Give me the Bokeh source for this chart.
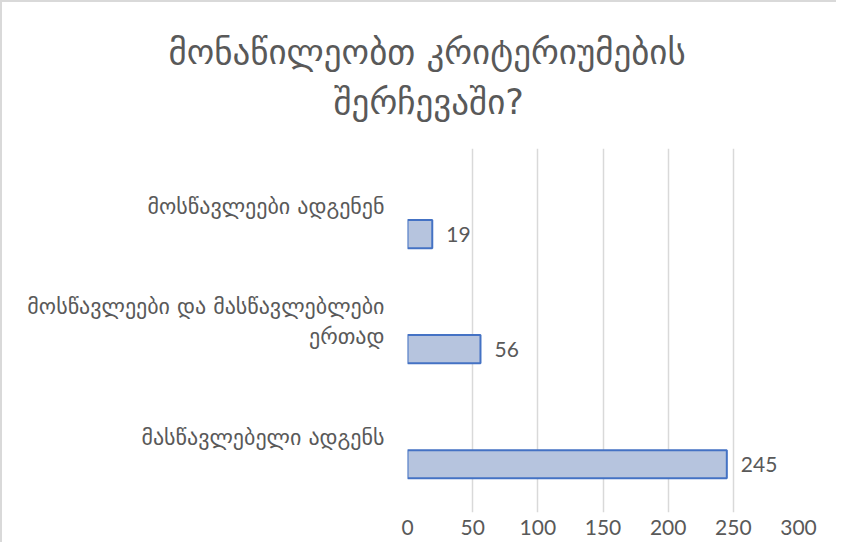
from bokeh.plotting import figure
from bokeh.models import Range1d, FixedTicker, ColumnDataSource, Title
from bokeh.core.properties import value
from bokeh.embed import file_html
from bokeh.resources import INLINE

title_lines = ["მონაწილეობთ კრიტერიუმების", "შერჩევაში?"]
categories = ["მასწავლებელი ადგენს", "მოსწავლეები და მასწავლებლები\nერთად", "მოსწავლეები ადგენენ"]
values = [245, 56, 19]
x_ticks = [0, 50, 100, 150, 200, 250, 300]

GEO = "DejaVu Sans"
NUM = "Lato"
TXT = "#595959"

p = figure(width=836, height=542, output_backend="svg", toolbar_location=None,
           x_range=Range1d(0, 300), y_range=Range1d(-0.655, 2.507),
           min_border_left=405, min_border_right=40, min_border_top=146, min_border_bottom=32)
p.outline_line_color = None
p.styles = {"border-top": "2px solid #d9d9d9", "border-left": "2px solid #d9d9d9"}

pos = list(range(len(categories)))
bar_y = [i - 0.236 for i in pos]
src = ColumnDataSource(dict(y=bar_y, v=values, lbl=[str(v) for v in values]))
p.hbar(y="y", right="v", left=0, height=0.245, source=src,
       fill_color="#b6c4de", line_color="#4472c4", line_width=2)
p.text(x="v", y="y", text="lbl", source=src, x_offset=14, text_baseline="middle",
       text_align="left", text_color=TXT, text_font=value(NUM), text_font_size="21px")

p.xaxis.ticker = FixedTicker(ticks=x_ticks)
p.xaxis.axis_line_color = None
p.xaxis.major_tick_line_color = None
p.xaxis.minor_tick_line_color = None
p.xaxis.major_label_text_font = NUM
p.xaxis.major_label_text_font_size = "21px"
p.xaxis.major_label_text_color = TXT
p.xaxis.major_label_standoff = 1

p.yaxis.ticker = FixedTicker(ticks=pos)
p.yaxis.major_label_overrides = {i: c for i, c in zip(pos, categories)}
p.yaxis.axis_line_color = None
p.yaxis.major_tick_line_color = None
p.yaxis.minor_tick_line_color = None
p.yaxis.major_label_text_font = GEO
p.yaxis.major_label_text_font_size = "22px"
p.yaxis.major_label_text_color = TXT
p.yaxis.major_label_standoff = 17

p.xgrid.grid_line_color = "#d9d9d9"
p.xgrid.grid_line_width = 1.5
p.ygrid.grid_line_color = None

# spacer between frame and title, then second line, then first line
p.add_layout(Title(text=" ", standoff=6, text_font=GEO, text_font_size="9px"), "above")
p.add_layout(Title(text=title_lines[1], align="left", offset=-74, standoff=17,
                   text_font=GEO, text_font_size="35px", text_font_style="normal",
                   text_color=TXT), "above")
p.add_layout(Title(text=title_lines[0], align="left", offset=-239, standoff=0,
                   text_font=GEO, text_font_size="35px", text_font_style="normal",
                   text_color=TXT), "above")

open("out.html", "w").write(file_html(p, INLINE))
